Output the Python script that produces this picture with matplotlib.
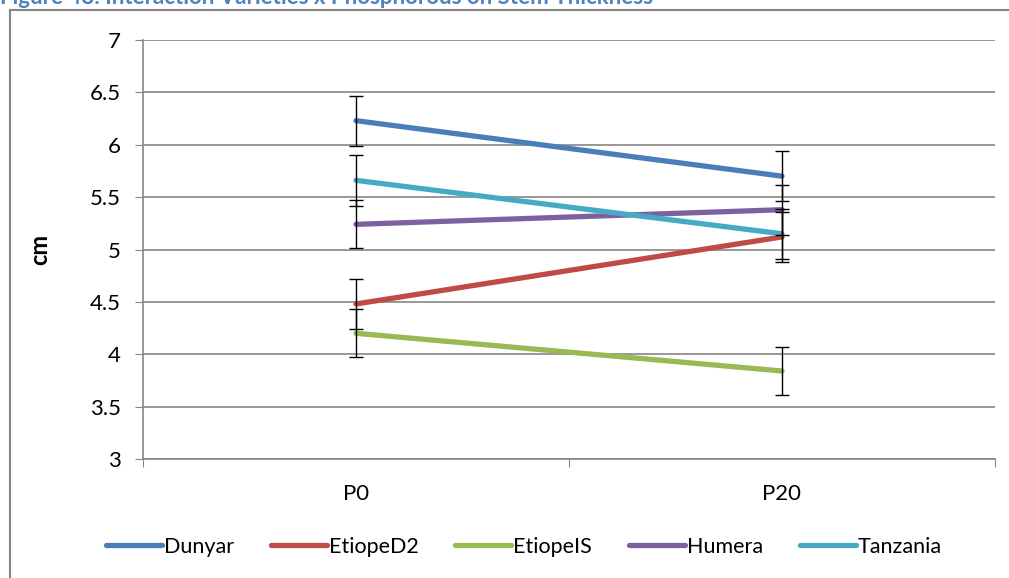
import matplotlib.pyplot as plt
import matplotlib.patches as patches

plt.rcParams['font.family'] = ['Lato', 'DejaVu Sans']

categories = ['P0', 'P20']
varieties = ['Dunyar', 'EtiopeD2', 'EtiopeIS', 'Humera', 'Tanzania']
means = {
    'Dunyar': [6.23, 5.70],
    'EtiopeD2': [4.48, 5.12],
    'EtiopeIS': [4.20, 3.84],
    'Humera': [5.24, 5.38],
    'Tanzania': [5.66, 5.15],
}
errors = {
    'Dunyar': [0.24, 0.24],
    'EtiopeD2': [0.24, 0.24],
    'EtiopeIS': [0.23, 0.23],
    'Humera': [0.23, 0.24],
    'Tanzania': [0.24, 0.24],
}
colors = ['#4A7EBB', '#BE4B48', '#98B954', '#7D60A0', '#46AAC5']

W, H = 1009, 578
fig = plt.figure(figsize=(W / 100, H / 100), dpi=100)
ax = fig.add_axes([143 / W, 1 - 459 / H, (995 - 143) / W, (459 - 40) / H])

# outer chart border (runs off the right and bottom edges)
fig.patches.append(patches.Rectangle((10 / W, -0.1), 1.2, 1 - 10 / H + 0.1,
                                     transform=fig.transFigure, fill=False,
                                     edgecolor='#868686', linewidth=1.5))

# caption sits partly above the crop, as in the source image
fig.text(0.0, 1 - 4 / H, 'Figure 48: Interaction Varieties x Phosphorous on Stem Thickness',
         color='#4F81BD', fontweight='bold', fontsize=16, va='baseline', ha='left')

x = list(range(len(categories)))
for name, c in zip(varieties, colors):
    ax.plot(x, means[name], color=c, linewidth=3.8, solid_capstyle='round', label=name, zorder=3)
    ax.errorbar(x, means[name], yerr=errors[name], fmt='none', ecolor='black',
                elinewidth=1, capsize=5, capthick=1, zorder=4)

ax.set_ylim(3, 7)
ax.set_yticks([3, 3.5, 4, 4.5, 5, 5.5, 6, 6.5, 7])
ax.set_yticklabels(['3', '3.5', '4', '4.5', '5', '5.5', '6', '6.5', '7'])
ax.set_xlim(-0.5, 1.5)
ax.set_xticks([-0.5, 0.5, 1.5])
ax.set_xticklabels([])
ax.set_xticks(x, minor=True)
ax.set_xticklabels(categories, minor=True)
ax.tick_params(axis='x', which='minor', length=0, pad=18, labelsize=16)
ax.tick_params(axis='x', which='major', length=6, color='#868686', direction='out')
ax.tick_params(axis='y', length=6, color='#868686', direction='out', labelsize=16, pad=10)

ax.grid(axis='y', color='#868686', linewidth=1.2)
ax.set_axisbelow(True)
for s in ['top', 'right']:
    ax.spines[s].set_visible(False)
for s in ['left', 'bottom']:
    ax.spines[s].set_color('#868686')
    ax.spines[s].set_linewidth(1.2)

ax.set_ylabel('cm', fontsize=17, fontweight='bold', labelpad=28)

ax.legend(loc='center', bbox_to_anchor=(0.447, -0.21),
          ncol=5, frameon=False, fontsize=15.5, handlelength=2.6, handletextpad=0.1,
          columnspacing=1.7)

plt.savefig('out.png', dpi=100)
